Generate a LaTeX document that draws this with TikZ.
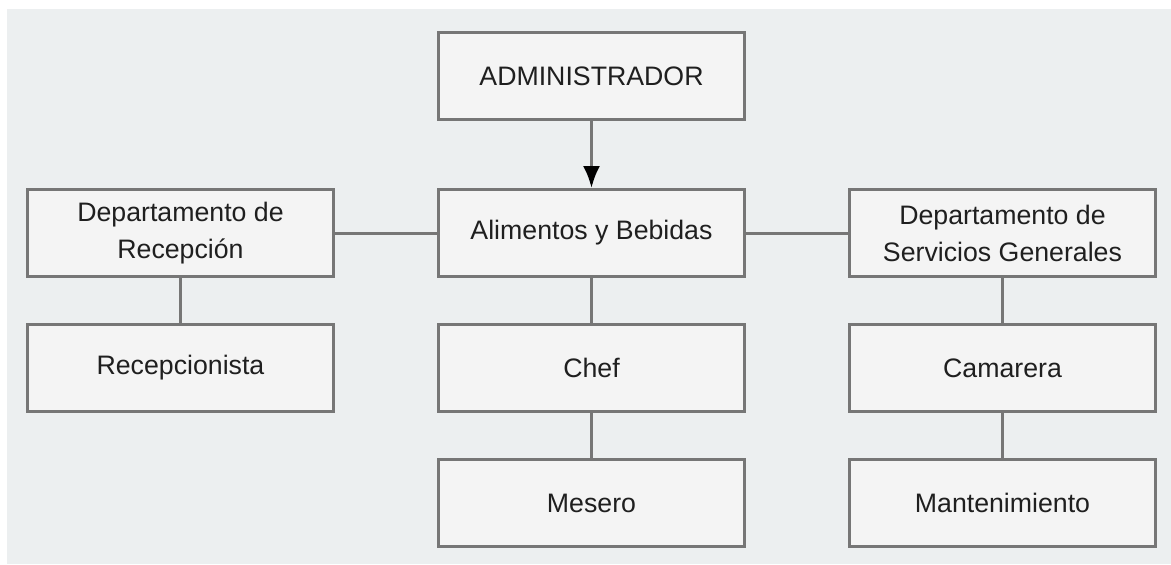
\documentclass[tikz,border=0pt]{standalone}
\usepackage{fontspec}
\setmainfont{Liberation Sans}
\usetikzlibrary{arrows.meta, positioning}

\definecolor{panelbg}{HTML}{ECEFF0}
\definecolor{boxfill}{HTML}{F4F4F4}
\definecolor{boxline}{HTML}{767676}

\begin{document}
\begin{tikzpicture}[
    node distance=1.34cm and 2.04cm,
    box/.style={rectangle, draw=boxline, fill=boxfill, line width=0.06cm, minimum width=6.12cm, minimum height=1.74cm, inner sep=2pt, align=center, font=\fontsize{15.2}{21}\selectfont, text=black!88},
    link/.style={draw=boxline, line width=0.06cm},
    arrow/.style={link, -{Latex[length=0.44cm, width=0.34cm, fill=black, color=black]}}
]

% Background panel
\useasboundingbox (-11.83,1.52) rectangle (11.59,-9.76);
\fill[panelbg] (-11.69,1.34) rectangle (11.59,-9.76);

% Top of chart
\node[box] (admin) {ADMINISTRADOR};
\node[box, below=of admin] (alimentos) {Alimentos y Bebidas};

% Departments
\node[box, left=of alimentos] (recepcion) {Departamento de\\Recepción};
\node[box, right=of alimentos] (servicios) {Departamento de\\Servicios Generales};

% Staff
\node[box, below=0.9cm of recepcion] (recepcionista) {Recepcionista};
\node[box, below=0.9cm of alimentos] (chef) {Chef};
\node[box, below=0.9cm of chef] (mesero) {Mesero};
\node[box, below=0.9cm of servicios] (camarera) {Camarera};
\node[box, below=0.9cm of camarera] (mantenimiento) {Mantenimiento};

% Connectors
\draw[arrow] (admin) -- (alimentos);
\draw[link] (recepcion) -- (alimentos);
\draw[link] (alimentos) -- (servicios);
\draw[link] (recepcion) -- (recepcionista);
\draw[link] (alimentos) -- (chef);
\draw[link] (chef) -- (mesero);
\draw[link] (servicios) -- (camarera);
\draw[link] (camarera) -- (mantenimiento);

\end{tikzpicture}
\end{document}
